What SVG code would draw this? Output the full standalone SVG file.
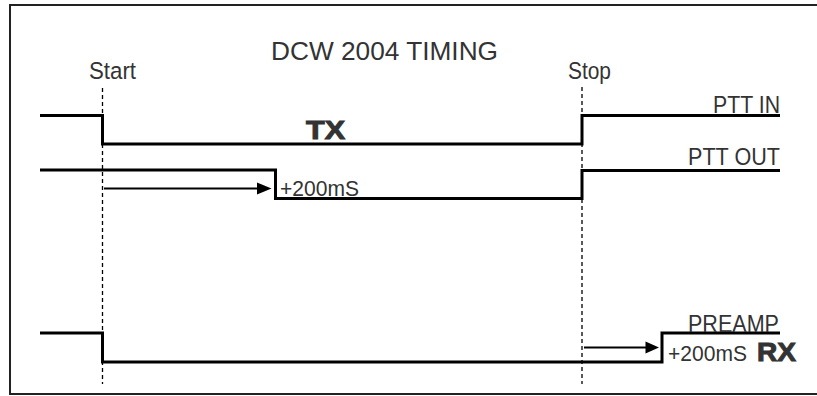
<svg xmlns="http://www.w3.org/2000/svg" width="817" height="396" viewBox="0 0 817 396">
<defs>
<style>
.lbl{font-family:"Liberation Sans",Arial,sans-serif;fill:#333;}
.bold{font-family:"Liberation Sans",Arial,sans-serif;font-weight:bold;fill:#333;stroke:#333;stroke-width:1;}
.sig{fill:none;stroke:#000;stroke-width:3;}
.dash{fill:none;stroke:#000;stroke-width:1.3;stroke-dasharray:4 3;}
.arr{fill:none;stroke:#000;stroke-width:2;}
</style>
</defs>
<rect x="10" y="5" width="820" height="389" fill="#fff" stroke="#222" stroke-width="2"/>
<g id="title">
<text class="lbl" x="271" y="60" font-size="26" textLength="227" lengthAdjust="spacingAndGlyphs">DCW 2004 TIMING</text>
</g>
<g id="start">
<text class="lbl" x="89" y="79" font-size="24.5" textLength="47" lengthAdjust="spacingAndGlyphs">Start</text>
<line class="dash" x1="102.5" y1="88" x2="102.5" y2="384"/>
</g>
<g id="stop">
<text class="lbl" x="568" y="78.5" font-size="24.5" textLength="43" lengthAdjust="spacingAndGlyphs">Stop</text>
<line class="dash" x1="582" y1="87" x2="582" y2="384"/>
</g>
<g id="ptt-in">
<path class="sig" d="M40,115.5 H102.5 V144 H582 V115.5 H780"/>
<text class="lbl" x="713" y="113" font-size="24" textLength="67" lengthAdjust="spacingAndGlyphs">PTT IN</text>
<text class="bold" x="306" y="138.5" font-size="25.5" textLength="39" lengthAdjust="spacingAndGlyphs">TX</text>
</g>
<g id="ptt-out">
<path class="sig" d="M40,170 H275.5 V198.5 H582 V170.5 H780"/>
<text class="lbl" x="688" y="165" font-size="24" textLength="92" lengthAdjust="spacingAndGlyphs">PTT OUT</text>
<text class="lbl" x="280" y="195.5" font-size="22.5" textLength="79" lengthAdjust="spacingAndGlyphs">+200mS</text>
</g>
<g id="preamp">
<path class="sig" d="M40,333 H102.5 V362 H662 V333 H780"/>
<text class="lbl" x="688" y="331.5" font-size="24" textLength="91" lengthAdjust="spacingAndGlyphs">PREAMP</text>
<text class="lbl" x="668" y="361" font-size="22.5" textLength="79" lengthAdjust="spacingAndGlyphs">+200mS</text>
<text class="bold" x="757" y="361" font-size="26" textLength="39" lengthAdjust="spacingAndGlyphs">RX</text>
</g>
<g id="connectors">
<path class="arr" d="M104,188.5 H259"/>
<polygon points="257,182.5 271.5,188.5 257,194.5" fill="#000"/>
<path class="arr" d="M584,347.5 H647"/>
<polygon points="645.5,341.5 659,347.5 645.5,353.5" fill="#000"/>
</g>
</svg>
